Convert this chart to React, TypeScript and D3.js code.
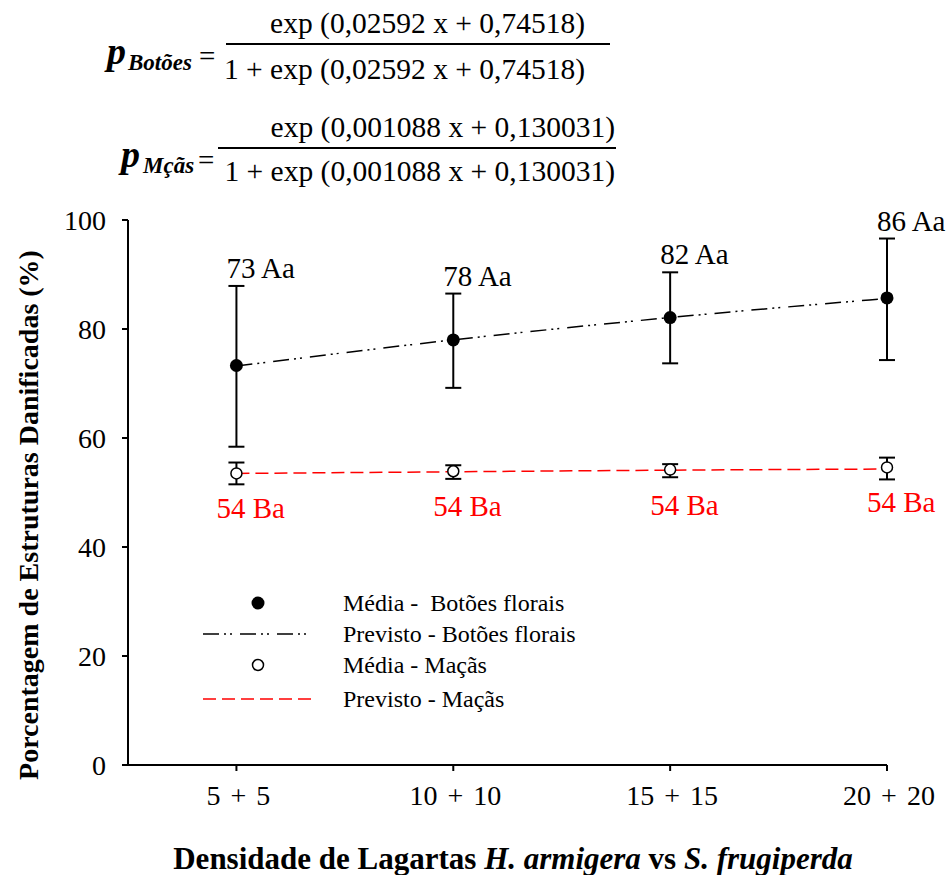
import React from "react";
import * as d3 from "d3";

const categories = ["5 + 5", "10 + 10", "15 + 15", "20 + 20"];
const density = [5, 10, 15, 20];
const botoesMean = [73.3, 78.0, 82.1, 85.7];
const botoesLower = [58.4, 69.2, 73.7, 74.3];
const botoesUpper = [87.9, 86.5, 90.4, 96.6];
const botoesPred = [73.2, 78.0, 82.1, 85.6];
const botoesLabels = ["73 Aa", "78 Aa", "82 Aa", "86 Aa"];
const macasMean = [53.5, 53.9, 54.2, 54.6];
const macasLower = [51.5, 52.5, 52.8, 52.4];
const macasUpper = [55.5, 55.0, 55.2, 56.4];
const macasPred = [53.5, 53.8, 54.1, 54.3];
const macasLabels = ["54 Ba", "54 Ba", "54 Ba", "54 Ba"];
const yTicks = [0, 20, 40, 60, 80, 100];

const FONT = "'Liberation Serif', 'Times New Roman', serif";
const RED = "#ff0000";

export default function App() {
  const x = d3.scaleLinear().domain([2.5, 20]).range([128, 887]);
  const y = d3.scaleLinear().domain([0, 100]).range([765, 220]);
  const line = d3
    .line<number>()
    .x((_, i) => x(density[i]))
    .y((d) => y(d))
    .curve(d3.curveMonotoneX);

  const cap = 8;

  return (
    <svg
      width={948}
      height={875}
      style={{ position: "absolute", left: 0, top: 0, background: "#fff" }}
      fontFamily={FONT}
    >
      <rect width={948} height={875} fill="#fff" />
      {/* Equations */}
      <g fill="#000">
        <text x={107} y={64} fontSize={38} fontWeight="bold" fontStyle="italic">p</text>
        <text x={128} y={70} fontSize={23} fontWeight="bold" fontStyle="italic">Botões</text>
        <text x={199} y={66} fontSize={29}>=</text>
        <line x1={226} x2={610} y1={44} y2={44} stroke="#000" strokeWidth={2} />
        <text x={585} y={33} fontSize={29.5} textAnchor="end">exp (0,02592 x + 0,74518)</text>
        <text x={585} y={79} fontSize={29.5} textAnchor="end">1 + exp (0,02592 x + 0,74518)</text>

        <text x={121} y={167} fontSize={38} fontWeight="bold" fontStyle="italic">p</text>
        <text x={143} y={173} fontSize={23} fontWeight="bold" fontStyle="italic">Mçãs</text>
        <text x={198} y={170} fontSize={29}>=</text>
        <line x1={218} x2={616} y1={148} y2={148} stroke="#000" strokeWidth={2} />
        <text x={615} y={137} fontSize={29.5} textAnchor="end">exp (0,001088 x + 0,130031)</text>
        <text x={615} y={181} fontSize={29.5} textAnchor="end">1 + exp (0,001088 x + 0,130031)</text>
      </g>

      {/* Axes */}
      <g stroke="#000" strokeWidth={2} fill="none">
        <line x1={x(2.5)} x2={x(2.5)} y1={y(0)} y2={y(100)} />
        <line x1={x(2.5) - 6} x2={x(20)} y1={y(0)} y2={y(0)} />
        {yTicks.map((t) => (
          <line key={t} x1={x(2.5) - 6} x2={x(2.5)} y1={y(t)} y2={y(t)} />
        ))}
        {density.map((d) => (
          <line key={d} x1={x(d)} x2={x(d)} y1={y(0)} y2={y(0) + 6} />
        ))}
      </g>
      <g fontSize={28} fill="#000">
        {yTicks.map((t) => (
          <text key={t} x={106} y={y(t)} dy="0.35em" textAnchor="end">{t}</text>
        ))}
        {categories.map((c, i) => (
          <text key={c} x={x(density[i]) + 2} y={805} textAnchor="middle" wordSpacing={3}>{c}</text>
        ))}
      </g>

      {/* Axis titles */}
      <text
        transform="translate(38,515) rotate(-90)"
        textAnchor="middle"
        fontSize={28}
        fontWeight="bold"
      >
        Porcentagem de Estruturas Danificadas (%)
      </text>
      <text x={513} y={869} textAnchor="middle" fontSize={31} fontWeight="bold">
        Densidade de Lagartas <tspan fontStyle="italic">H. armigera</tspan> vs{" "}
        <tspan fontStyle="italic">S. frugiperda</tspan>
      </text>

      {/* Predicted lines */}
      <path
        d={line(botoesPred) || ""}
        fill="none"
        stroke="#000"
        strokeWidth={1.5}
        strokeDasharray="16 5 2 4 2 8"
      />
      <path
        d={line(macasPred) || ""}
        fill="none"
        stroke={RED}
        strokeWidth={1.5}
        strokeDasharray="13 6"
      />

      {/* Error bars */}
      <g stroke="#000" strokeWidth={2}>
        {density.map((d, i) => (
          <g key={"b" + d}>
            <line x1={x(d)} x2={x(d)} y1={y(botoesLower[i])} y2={y(botoesUpper[i])} />
            <line x1={x(d) - cap} x2={x(d) + cap} y1={y(botoesLower[i])} y2={y(botoesLower[i])} />
            <line x1={x(d) - cap} x2={x(d) + cap} y1={y(botoesUpper[i])} y2={y(botoesUpper[i])} />
          </g>
        ))}
        {density.map((d, i) => (
          <g key={"m" + d}>
            <line x1={x(d)} x2={x(d)} y1={y(macasLower[i])} y2={y(macasUpper[i])} />
            <line x1={x(d) - cap} x2={x(d) + cap} y1={y(macasLower[i])} y2={y(macasLower[i])} />
            <line x1={x(d) - cap} x2={x(d) + cap} y1={y(macasUpper[i])} y2={y(macasUpper[i])} />
          </g>
        ))}
      </g>

      {/* Points */}
      {density.map((d, i) => (
        <circle key={"bp" + d} cx={x(d)} cy={y(botoesMean[i])} r={6.5} fill="#000" />
      ))}
      {density.map((d, i) => (
        <circle
          key={"mp" + d}
          cx={x(d)}
          cy={y(macasMean[i])}
          r={5.5}
          fill="#fff"
          stroke="#000"
          strokeWidth={1.5}
        />
      ))}

      {/* Point labels */}
      <g fontSize={29}>
        {density.map((d, i) => (
          <text key={"bl" + d} x={x(d) - 10} y={y(botoesUpper[i]) - 8} fill="#000">
            {botoesLabels[i]}
          </text>
        ))}
        {density.map((d, i) => (
          <text key={"ml" + d} x={x(d) - 20} y={y(macasMean[i]) + 45} fill={RED}>
            {macasLabels[i]}
          </text>
        ))}
      </g>

      {/* Legend */}
      <g fontSize={24} fill="#000">
        <circle cx={258} cy={603} r={6.5} fill="#000" />
        <text x={343} y={611}>{"Média -\u00a0 Botões florais"}</text>
        <line x1={203} x2={313} y1={634} y2={634} stroke="#000" strokeWidth={1.5} strokeDasharray="16 5 2 4 2 8" />
        <text x={343} y={642}>Previsto - Botões florais</text>
        <circle cx={258} cy={665} r={5.5} fill="#fff" stroke="#000" strokeWidth={1.5} />
        <text x={343} y={673}>Média - Maçãs</text>
        <line x1={203} x2={315} y1={699} y2={699} stroke={RED} strokeWidth={1.5} strokeDasharray="13 6" />
        <text x={343} y={707}>Previsto - Maçãs</text>
      </g>
    </svg>
  );
}
